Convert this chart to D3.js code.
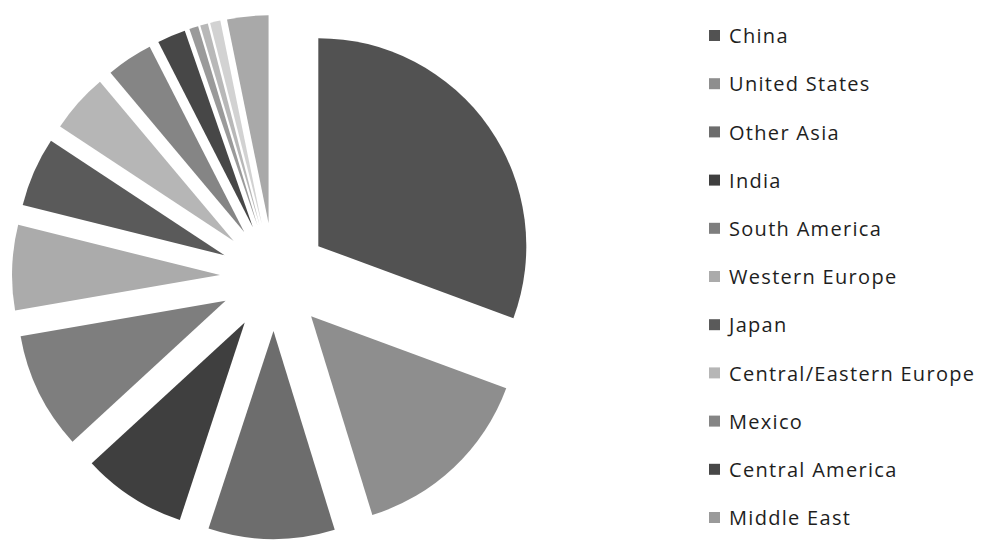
<!DOCTYPE html>
<html>
<head>
<meta charset="utf-8">
<script src="https://cdn.jsdelivr.net/npm/d3@7"></script>
<style>
  html, body { margin: 0; padding: 0; background: #ffffff; }
  svg { display: block; }
</style>
</head>
<body>
<svg id="chart" width="987" height="541"></svg>
<script>
// ---- data (share of total, %) ----
const categories = [
  "China", "United States", "Other Asia", "India", "South America",
  "Western Europe", "Japan", "Central/Eastern Europe", "Mexico",
  "Central America", "Middle East", "Africa", "Canada", "Other"
];
const values = [30.6, 14.6, 9.8, 8.1, 9.1, 6.6, 5.4, 4.6, 3.6, 2.2, 0.7, 0.6, 0.8, 3.2];
const colors = [
  "#525252", "#8e8e8e", "#6d6d6d", "#3f3f3f", "#7e7e7e",
  "#ababab", "#5a5a5a", "#b6b6b6", "#858585", "#474747",
  "#9a9a9a", "#b8b8b8", "#d2d2d2", "#a9a9a9"
];
const legendCount = 11; // legend in the reference shows only the first 11 entries

// ---- layout ----
const cx = 274, cy = 277, R = 208, explode = 54;

const svg = d3.select("#chart");
const data = categories.map((c, i) => ({ name: c, value: values[i], color: colors[i] }));

const pie = d3.pie().sort(null).value(d => d.value).startAngle(0).endAngle(2 * Math.PI);
const arc = d3.arc().innerRadius(0).outerRadius(R);

const g = svg.append("g").attr("transform", `translate(${cx},${cy})`);
g.selectAll("path.slice")
  .data(pie(data))
  .join("path")
  .attr("class", "slice")
  .attr("d", arc)
  .attr("fill", d => d.data.color)
  .attr("transform", d => {
    const mid = (d.startAngle + d.endAngle) / 2;
    return `translate(${explode * Math.sin(mid)},${-explode * Math.cos(mid)})`;
  });

// ---- legend ----
const legendY = d3.scaleLinear().domain([0, legendCount - 1]).range([36, 518]);
const lg = svg.append("g");
const items = lg.selectAll("g.item")
  .data(data.slice(0, legendCount))
  .join("g")
  .attr("class", "item")
  .attr("transform", (d, i) => `translate(709,${legendY(i)})`);
items.append("rect")
  .attr("x", 0).attr("y", -6).attr("width", 11).attr("height", 11)
  .attr("fill", d => d.color);
items.append("text")
  .attr("x", 20).attr("y", 0).attr("dy", "0.36em")
  .attr("font-family", "'Open Sans', 'DejaVu Sans', sans-serif")
  .attr("font-size", 20)
  .attr("letter-spacing", 1.3)
  .attr("fill", "#1e1e1e")
  .text(d => d.name);
</script>
</body>
</html>
